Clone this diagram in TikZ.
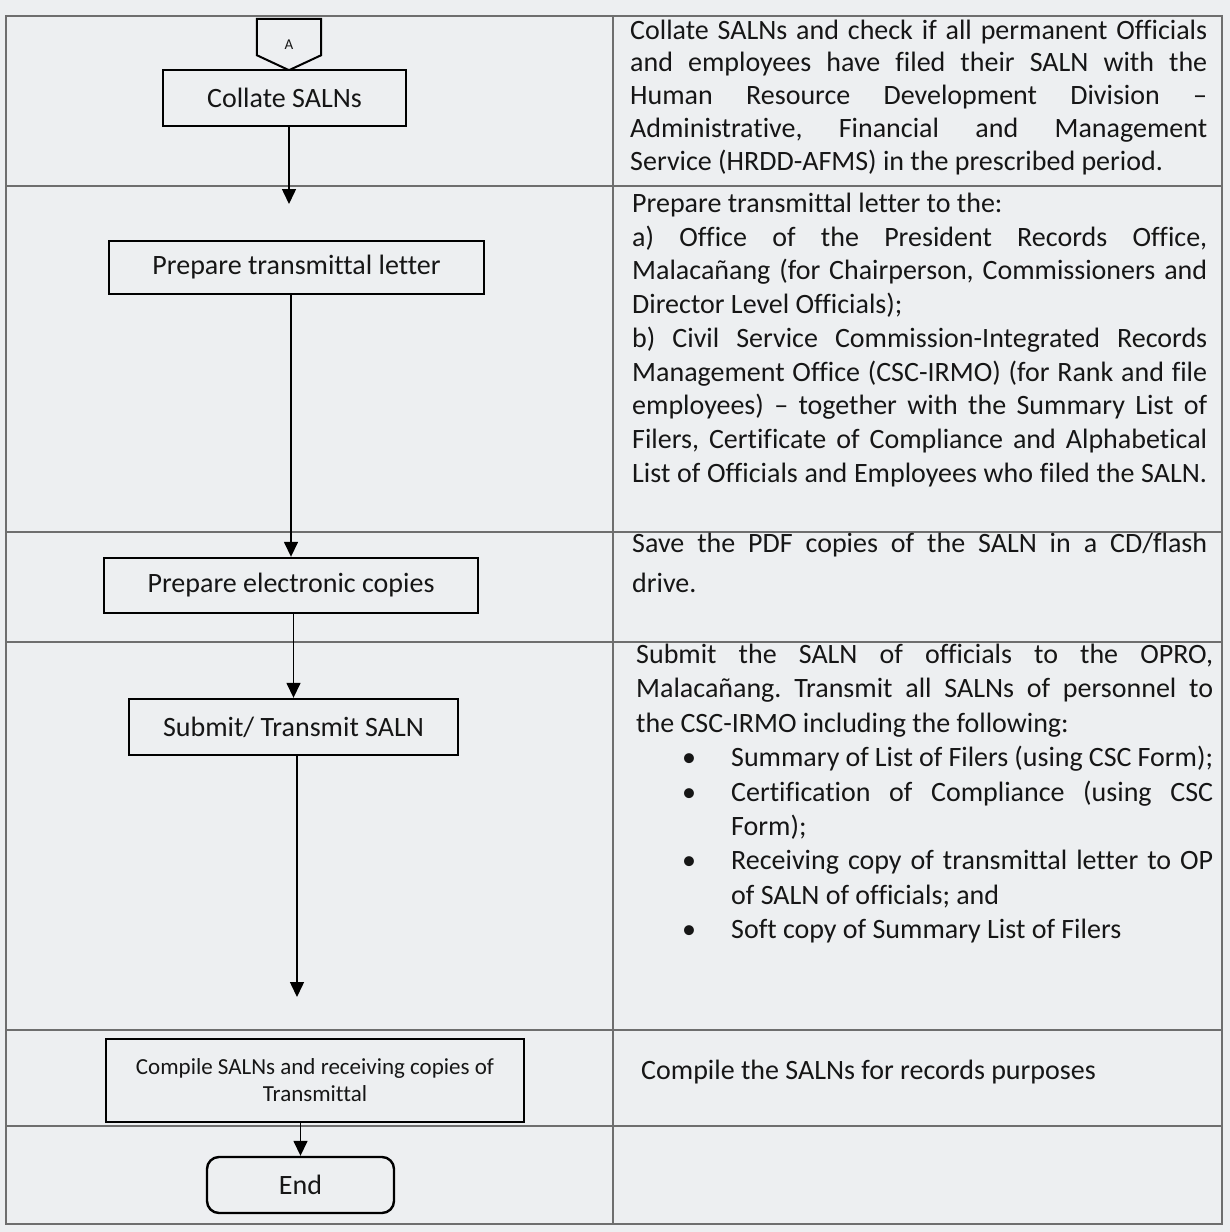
\documentclass[tikz,border=0pt]{standalone}
\usepackage{fontspec}
\setmainfont[Ligatures=NoCommon]{Carlito}
\usetikzlibrary{arrows.meta}
\definecolor{paper}{RGB}{237,239,241}
\definecolor{rulec}{RGB}{110,110,110}
\definecolor{ink}{RGB}{22,22,22}
\frenchspacing
\newcommand\jl[1]{\makebox[\linewidth][s]{#1}\par}
\newcommand\lft[1]{\makebox[\linewidth][l]{#1}\par}
\newcommand\bitem[2][s]{\hbox to\linewidth{\hskip95pt\llap{\makebox[0pt]{\textbullet}\hskip42pt}\makebox[\dimexpr\linewidth-95pt\relax][#1]{#2}}}
\newcommand\cont[1]{\hbox to\linewidth{\hskip95pt #1\hfil}}
\begin{document}
\begin{tikzpicture}[x=1pt,y=-1pt,
  every node/.style={text=ink, font=\fontsize{28}{33.8}\selectfont},
  box/.style={draw=black, line width=2.4pt, fill=paper, inner sep=0pt, align=center},
  grid/.style={draw=rulec, line width=1.1pt},
  arr/.style={draw=black, line width=1.5pt, -{Triangle[length=15pt,width=14pt]}},
  txt/.style={anchor=base west, inner sep=0pt}]
\fill[paper] (0,0) rectangle (1230,1232);
\useasboundingbox (0,0) rectangle (1230,1232);
% table
\draw[grid] (6,16) rectangle (1222,1224);
\draw[grid] (613,16) -- (613,1224);
\foreach \y in {186,532,642,1030,1126} \draw[grid] (6,\y) -- (1222,\y);
% connector A
\node[inner sep=0pt, minimum width=64pt, minimum height=51pt, font=\fontsize{15}{18}\selectfont] (conn) at (289,44.5) {A};
\draw[black, line width=2pt, line join=miter] (conn.north west) -- (conn.north east) -- ([yshift=15pt]conn.south east) -- (conn.south) -- ([yshift=15pt]conn.south west) -- cycle;
% flow boxes
\node[box, minimum width=243pt, minimum height=56pt] (collate) at (284.5,98) {Collate SALNs};
\node[box, minimum width=375pt, minimum height=53pt] (trans) at (296.5,267.5) {Prepare transmittal letter};
\node[box, minimum width=374pt, minimum height=55pt] (elec) at (291,585.5) {Prepare electronic copies};
\node[box, minimum width=329pt, minimum height=56pt] (submit) at (293.5,727) {Submit/ Transmit SALN};
\node[box, minimum width=418pt, minimum height=83pt, font=\fontsize{23}{27}\selectfont] (compile) at (315,1080.5) {Compile SALNs and receiving copies of\\Transmittal};
\node[box, rounded corners=12pt, minimum width=187pt, minimum height=56pt] (end) at (300.5,1185) {End};
% connectors
\coordinate (t1) at (289,204);
\coordinate (t2) at (297,997);
\draw[arr] (collate.south -| t1) -- (t1);
\draw[arr] (trans.south -| elec.north) -- (elec.north);
\draw[arr] (elec.south -| submit.north) -- (submit.north);
\draw[arr] (submit.south -| t2) -- (t2);
\draw[arr] (compile.south -| end.north) -- (end.north);
% right column
\node[txt] (r1) at (630,39) {\parbox[t]{577pt}{\fontsize{28}{32.8}\selectfont\parindent0pt
\jl{Collate SALNs and check if all permanent Officials}
\jl{and employees have filed their SALN with the}
\jl{Human Resource Development Division –}
\jl{Administrative, Financial and Management}
\lft{Service (HRDD-AFMS) in the prescribed period.}}};
\node[txt] (r2) at (632,212.5) {\parbox[t]{575pt}{\fontsize{28}{33.7}\selectfont\parindent0pt
\lft{Prepare transmittal letter to the:}
\jl{a) Office of the President Records Office,}
\jl{Malacañang (for Chairperson, Commissioners and}
\lft{Director Level Officials);}
\jl{b) Civil Service Commission-Integrated Records}
\jl{Management Office (CSC-IRMO) (for Rank and file}
\jl{employees) – together with the Summary List of}
\jl{Filers, Certificate of Compliance and Alphabetical}
\jl{List of Officials and Employees who filed the SALN.}}};
\node[txt] (r3) at (632,552.5) {\parbox[t]{575pt}{\fontsize{28}{40}\selectfont\parindent0pt
\jl{Save the PDF copies of the SALN in a CD/flash}
\lft{drive.}}};
\node[txt] (r4) at (636,663.5) {\parbox[t]{577pt}{\fontsize{28}{34.4}\selectfont\parindent0pt
\jl{Submit the SALN of officials to the OPRO,}
\jl{Malacañang. Transmit all SALNs of personnel to}
\lft{the CSC-IRMO including the following:}
\bitem{Summary of List of Filers (using CSC Form);}
\bitem{Certification of Compliance (using CSC}
\cont{Form);}
\bitem{Receiving copy of transmittal letter to OP}
\cont{of SALN of officials; and}
\bitem[l]{Soft copy of Summary List of Filers}}};
\node[txt] (r5) at (641,1079) {Compile the SALNs for records purposes};
\end{tikzpicture}
\end{document}
